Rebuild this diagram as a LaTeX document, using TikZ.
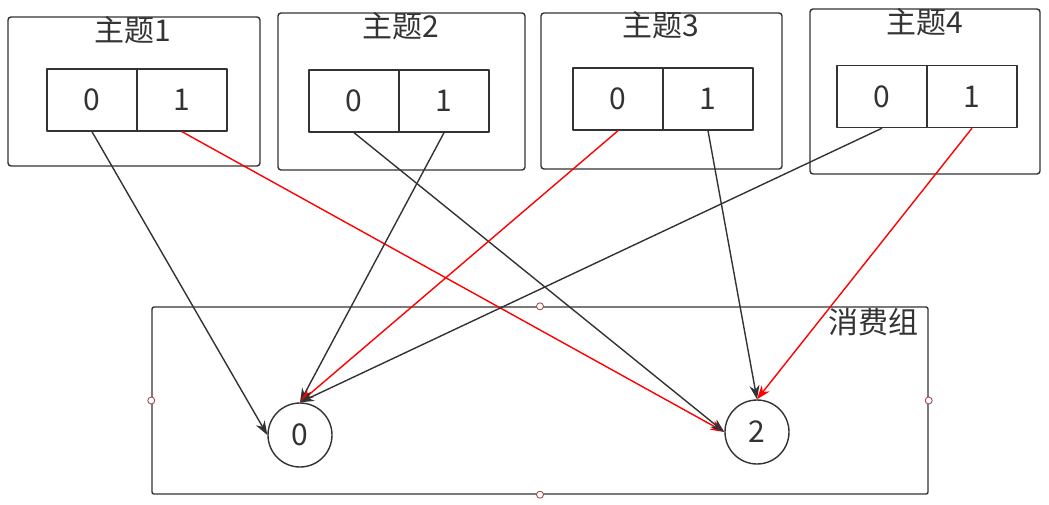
\documentclass[tikz,border=0pt]{standalone}
\usepackage{fontspec}
\setmainfont{Noto Sans CJK SC}
\usetikzlibrary{arrows.meta}

\definecolor{ink}{HTML}{333333}
\definecolor{handle}{HTML}{A05050}

\begin{document}
\begin{tikzpicture}[x=1pt, y=-1pt, line width=1.4pt, line join=round,
    font=\fontsize{30}{36}\selectfont, color=ink,
    topicbox/.style={draw=ink, rounded corners=3pt, inner sep=0pt},
    part/.style={draw=ink, minimum width=90pt, minimum height=62pt, inner sep=0pt},
    member/.style={draw=ink, circle, minimum size=64pt, inner sep=0pt},
    handledot/.style={draw=handle, fill=white, circle, minimum size=7pt, inner sep=0pt, line width=0.9pt},
    feed/.style={draw=ink, -{Stealth[length=14pt, width=10pt]}},
    feedred/.style={draw=red, -{Stealth[length=14pt, width=10pt]}}]

  % ── 四个主题 ──
  \node[topicbox, minimum width=252pt, minimum height=149pt] (t1) at (134,91.5) {};
  \node[topicbox, minimum width=247pt, minimum height=157pt] (t2) at (401.5,91.5) {};
  \node[topicbox, minimum width=241pt, minimum height=156pt] (t3) at (661.5,91) {};
  \node[topicbox, minimum width=230pt, minimum height=165pt] (t4) at (925,91.5) {};

  \node (t1name) at (133,30) {主题1};
  \node (t2name) at (401,26) {主题2};
  \node (t3name) at (661,25) {主题3};
  \node (t4name) at (925,22) {主题4};

  % ── 分区 ──
  \node[part] (t1p0) at (92,100) {0};
  \node[part] (t1p1) at (182,100) {1};
  \node[part] (t2p0) at (354,101) {0};
  \node[part] (t2p1) at (444,101) {1};
  \node[part] (t3p0) at (618,99) {0};
  \node[part] (t3p1) at (708,99) {1};
  \node[part] (t4p0) at (882,96.5) {0};
  \node[part] (t4p1) at (972,96.5) {1};

  % ── 消费组 ──
  \node[draw=ink, rounded corners=2pt, minimum width=776pt, minimum height=187pt, inner sep=0pt] (grp) at (540,400.5) {};
  \node (grpname) at (873,322) {消费组};
  \foreach \a in {north, south, west, east}
    \node[handledot] at (grp.\a) {};

  \node[member] (c0) at (300,435) {0};
  \node[member] (c2) at (757,432) {2};

  % ── 分区 → 消费者 ──
  \draw[feed]    (t1p0.south) -- (c0.west);
  \draw[feedred] (t1p1.south) -- (c2.west);
  \draw[feed]    (t2p0.south) -- (c2.west);
  \draw[feed]    (t2p1.south) -- (c0.north);
  \draw[feedred] (t3p0.south) -- (c0.north);
  \draw[feed]    (t3p1.south) -- (c2.north);
  \draw[feed]    (t4p0.south) -- (c0.north);
  \draw[feedred] (t4p1.south) -- (c2.north);

  \path[use as bounding box] (0,0) rectangle (1049,504);
\end{tikzpicture}
\end{document}
